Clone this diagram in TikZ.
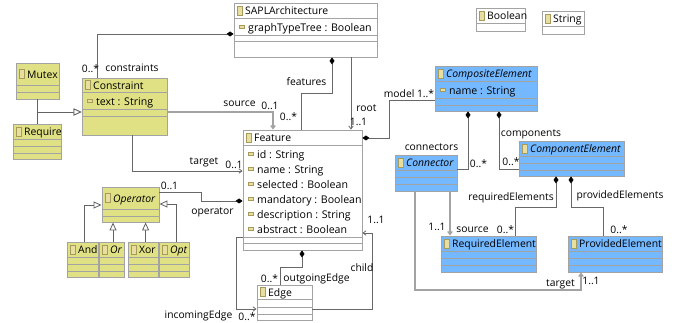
\documentclass[tikz,border=0pt]{standalone}
\usepackage{fontspec}
\setmainfont{Open Sans}
\usetikzlibrary{arrows.meta,fit}
\definecolor{classY}{HTML}{E0E085}
\definecolor{classB}{HTML}{74B8FF}
\definecolor{edgeG}{HTML}{A3A3A3}
\definecolor{linkG}{HTML}{686868}
\definecolor{iconT}{HTML}{E6DFA0}
\definecolor{iconE}{HTML}{A89A5A}
\tikzset{
  classbox/.style={draw=edgeG,line width=.9pt,inner sep=0pt},
  sepline/.style={edgeG,line width=.9pt},
  title/.style={anchor=west,inner sep=0pt,yshift=-1.3pt,font=\fontsize{10.4}{12}\selectfont,text height=8pt,text depth=2pt},
  attr/.style={anchor=west,inner sep=0pt,yshift=-1.2pt,font=\fontsize{10.6}{12}\selectfont,text height=8pt,text depth=2pt},
  role/.style={inner sep=0pt,font=\fontsize{10.3}{11}\selectfont},
  icon/.style={draw=iconE,fill=iconT,line width=.5pt,inner sep=0pt,minimum width=4.5pt,minimum height=9pt},
  attricon/.style={draw=iconE,fill=iconT,line width=.5pt,inner sep=0pt,minimum width=4.5pt,minimum height=3pt},
  link/.style={linkG,line width=.8pt},
  heavy/.style={edgeG,line width=1.3pt},
  whole/.style={link,{Diamond[length=7pt,width=5pt,black]}-},
  tomany/.style={-{Straight Barb[length=3pt,width=4.5pt]}},
  isa/.style={edgeG!60!black,line width=.8pt,-{Triangle[open,fill=white,length=8pt,width=7pt]}}
}
% name, fill, x0, y0, x1, y1, header line, other lines, text
\newcommand{\umlclass}[9]{
  \node[classbox,fill=#2,fit={(#3,#4) (#5,#6)}] (#1) {};
  \draw[sepline] (#3,#7) -- (#5,#7);
  \foreach \sepy in {#8} \draw[sepline] (#3,\sepy) -- (#5,\sepy);
  \node[icon] (#1I) at (#3+5.5,{(#4+#7)/2}) {};
  \node[title] (#1T) at (#3+11,{(#4+#7)/2}) {#9};
}
% name, x0 of the class, y, text
\newcommand{\umlattr}[4]{
  \node[attricon] (#1I) at (#2+7.5,#3) {};
  \node[attr] (#1) at (#2+14,#3) {#4};
}
\begin{document}
\begin{tikzpicture}[x=1pt,y=-1pt]
  \useasboundingbox (0,0) rectangle (681,323);

  \umlclass{Mutex}{classY}{16}{63}{59}{99}{85}{92}{Mutex}
  \umlclass{Require}{classY}{13}{124}{61}{159}{139}{146,153}{Require}
  \umlclass{Constraint}{classY}{82}{78}{167}{135}{92}{109,116}{Constraint}
  \umlclass{Operator}{classY}{102}{187}{159}{222}{209}{216}{\itshape Operator}
  \umlclass{And}{classY}{67}{242}{98}{277}{257}{264,271}{And}
  \umlclass{Or}{classY}{99}{242}{124}{277}{257}{264,271}{\itshape Or}
  \umlclass{Xor}{classY}{128}{242}{158}{277}{257}{264,271}{Xor}
  \umlclass{Opt}{classY}{159}{242}{189.5}{277}{257}{264,271}{\itshape Opt}

  \umlclass{SAPL}{white}{234}{3}{377}{57}{18}{35,41}{SAPLArchitecture}
  \umlclass{Feature}{white}{243}{130}{362}{250}{145}{237,243}{Feature}
  \umlclass{Edge}{white}{257}{285}{312}{320}{299}{307,314}{Edge}
  \umlclass{Boolean}{white}{476}{8}{525}{31}{23}{23}{Boolean}
  \umlclass{String}{white}{542}{11}{584}{34}{26}{26}{String}

  \umlclass{Composite}{classB}{435}{66}{537}{111}{81}{98,105}{\itshape CompositeElement}
  \umlclass{Component}{classB}{519}{141}{624}{176}{156}{163,170}{\itshape ComponentElement}
  \umlclass{Connector}{classB}{395}{155}{457}{191}{170}{177,184}{\itshape Connector}
  \umlclass{Required}{classB}{441}{236}{536}{272}{251}{258,265}{RequiredElement}
  \umlclass{Provided}{classB}{568}{236}{662}{272}{251}{258,265}{ProvidedElement}

  \umlattr{ctext}{82}{101}{text : String}
  \umlattr{sgraph}{234}{27}{graphTypeTree : Boolean}
  \umlattr{fid}{243}{154}{id : String}
  \umlattr{fname}{243}{169}{name : String}
  \umlattr{fselected}{243}{184}{selected : Boolean}
  \umlattr{fmandatory}{243}{199}{mandatory : Boolean}
  \umlattr{fdescription}{243}{214}{description : String}
  \umlattr{fabstract}{243}{229}{abstract : Boolean}
  \umlattr{cname}{435}{90}{name : String}

  \draw[whole] (SAPL.west |- 0,34) -| (Constraint.north -| 97.5,0);
  \draw[whole] (SAPL.south -| 332,0) |- (301,93) -- (Feature.north -| 301,0);
  \draw[link,tomany] (SAPL.south -| 351,0) -- (Feature.north -| 351,0);
  \draw[whole] (Feature.east |- 0,138) -| (389,100) -- (Composite.west |- 0,100);

  \draw[isa] (Mutex.south) |- (Constraint.west |- 0,112);
  \draw[isa] (Require.north) |- (Constraint.west |- 0,112);
  \draw[heavy,tomany] (Constraint.east |- 0,112) -| (Feature.north -| 273,0);
  \draw[link,tomany] (Constraint.south -| 132,0) |- (Feature.west |- 0,171);

  \draw[whole] (Feature.west |- 0,201) -| (201.7,192) -- (Operator.east |- 0,192);
  \draw[isa] (And.north -| 84,0) |- (Operator.west |- 0,205);
  \draw[isa] (Or.north -| 113,0) -- (Operator.south -| 113,0);
  \draw[isa] (Xor.north -| 145.6,0) -- (Operator.south -| 145.6,0);
  \draw[isa] (Opt.north -| 176,0) |- (Operator.east |- 0,204);

  \draw[whole] (Feature.south -| 302,0) |- (280,267) -- (Edge.north -| 280,0);
  \draw[link,tomany] (Feature.west |- 0,237) -| (236,309) -- (Edge.west |- 0,309);
  \draw[link,tomany] (Edge.east |- 0,309) -| (372,233) -- (Feature.east |- 0,233);

  \draw[whole] (Composite.south -| 468,0) |- (Connector.east |- 0,169);
  \draw[whole] (Composite.south -| 499,0) |- (Component.west |- 0,169);
  \draw[whole] (Component.south -| 556,0) |- (515,207) -- (Required.north -| 515,0);
  \draw[whole] (Component.south -| 571,0) |- (603,207) -- (Provided.north -| 603,0);
  \draw[heavy,tomany] (Connector.south -| 450,0) -- (Required.north -| 450,0);
  \draw[heavy,tomany] (Connector.south -| 415,0) |- (581,290) -- (Provided.south -| 581,0);

  \node[role] (lConstraintsM) at (90.5,69)  {0..*};
  \node[role] (lConstraints)  at (132,68)   {constraints};
  \node[role] (lSource)       at (239.5,104){source};
  \node[role] (lSourceM)      at (270,106)  {0..1};
  \node[role] (lTarget)       at (204,162)  {target};
  \node[role] (lTargetM)      at (234,165)  {0..1};
  \node[role] (lOperatorM)    at (169.5,186){0..1};
  \node[role] (lOperator)     at (212.5,212){operator};
  \node[role] (lFeatures)     at (306.5,82) {features};
  \node[role] (lFeaturesM)    at (288.5,117){0..*};
  \node[role] (lRoot)         at (366.5,108){root};
  \node[role] (lRootM)        at (358.5,122){1..1};
  \node[role] (lModel)        at (409,94)   {model 1..*};
  \node[role] (lConnectors)   at (431.5,147){connectors};
  \node[role] (lComponents)   at (531,134)  {components};
  \node[role] (lConnectorsM)  at (478.5,164){0..*};
  \node[role] (lComponentsM)  at (511,162)  {0..*};
  \node[role] (lRequired)     at (511,198)  {requiredElements};
  \node[role] (lProvided)     at (620,196)  {providedElements};
  \node[role] (lSourceR)      at (437,227)  {1..1};
  \node[role] (lSourceE)      at (472.5,230){source};
  \node[role] (lRequiredM)    at (505.5,230){0..*};
  \node[role] (lProvidedM)    at (619,230)  {0..*};
  \node[role] (lTargetE)      at (560.5,284){target};
  \node[role] (lTargetR)      at (591,281)  {1..1};
  \node[role] (lChildM)       at (376,220)  {1..1};
  \node[role] (lChild)        at (362,268)  {child};
  \node[role] (lOutgoingM)    at (269.5,279){0..*};
  \node[role] (lOutgoing)     at (316.5,279){outgoingEdge};
  \node[role] (lIncoming)     at (198.5,316){incomingEdge};
  \node[role] (lIncomingM)    at (247,316.5){0..*};
\end{tikzpicture}
\end{document}
